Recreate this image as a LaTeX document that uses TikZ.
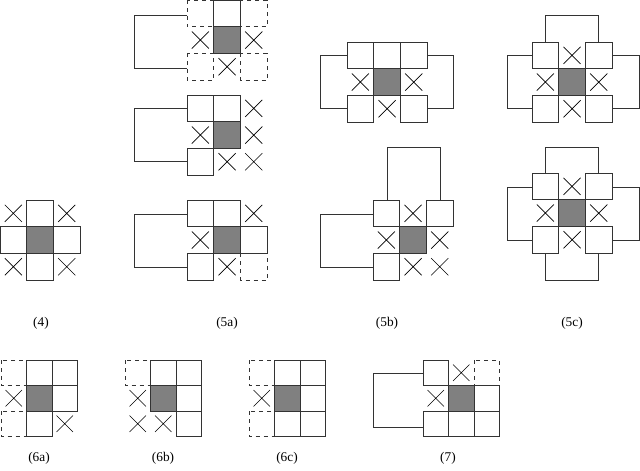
\documentclass[tikz,border=0pt]{standalone}
\usepackage{fontspec}
\setmainfont{Liberation Serif}
\newcommand\csz{26.7}
\newcommand\boxS[2]{\draw[box] ({#1*\csz},{#2*\csz}) rectangle ++(\csz,\csz);}
\newcommand\boxD[2]{\draw[box,dashed] ({#1*\csz},{#2*\csz}) rectangle ++(\csz,\csz);}
\newcommand\boxG[2]{\draw[box,fill=gray] ({#1*\csz},{#2*\csz}) rectangle ++(\csz,\csz);}
\newcommand\boxX[2]{\draw[xm] ({(#1+0.18)*\csz},{(#2+0.18)*\csz}) -- ++({0.64*\csz},{0.64*\csz}) ({(#1+0.18)*\csz},{(#2+0.82)*\csz}) -- ++({0.64*\csz},{-0.64*\csz});}
\begin{document}
\begin{tikzpicture}[x=0.75pt,y=-0.75pt,
  box/.style={draw=black!80,line width=0.6pt},
  xm/.style={draw=black,line width=0.5pt},
  con/.style={draw=black!80,line width=0.6pt},
  lab/.style={font=\fontsize{10}{12}\selectfont,inner sep=0pt}]
\useasboundingbox (0,0) rectangle (640,471);
% (4)
\begin{scope}[shift={(0,200)}]
\boxX00 \boxS10 \boxX20
\boxS01 \boxG11 \boxS21
\boxX02 \boxS12 \boxX22
\end{scope}
\node[lab] (l4) at (41,323) {(4)};
% (5a) top
\begin{scope}[shift={(187,0)}]
\boxD00 \boxS10 \boxD20
\boxX01 \boxG11 \boxX21
\boxD02 \boxX12 \boxD22
\end{scope}
\draw[con] (187,15) -- (134,15) -- (134,68) -- (187,68);
% (5a) middle
\begin{scope}[shift={(187,95)}]
\boxS00 \boxS10 \boxX20
\boxX01 \boxG11 \boxX21
\boxS02 \boxX12 \boxX22
\end{scope}
\draw[con] (187,108) -- (134,108) -- (134,161) -- (187,161);
% (5a) bottom
\begin{scope}[shift={(187,200)}]
\boxS00 \boxS10 \boxX20
\boxX01 \boxG11 \boxS21
\boxS02 \boxX12 \boxD22
\end{scope}
\draw[con] (187,214) -- (134,214) -- (134,267) -- (187,267);
\node[lab] (l5a) at (227,323) {(5a)};
% (5b) top
\begin{scope}[shift={(347,42)}]
\boxS00 \boxS10 \boxS20
\boxX01 \boxG11 \boxX21
\boxS02 \boxX12 \boxS22
\end{scope}
\draw[con] (347,55) -- (320,55) -- (320,108) -- (347,108);
\draw[con] (427,55) -- (453,55) -- (453,108) -- (427,108);
% (5b) bottom
\begin{scope}[shift={(373,200)}]
\boxS00 \boxX10 \boxS20
\boxX01 \boxG11 \boxX21
\boxS02 \boxX12 \boxX22
\end{scope}
\draw[con] (373,214) -- (320,214) -- (320,267) -- (373,267);
\draw[con] (387,200) -- (387,147) -- (440,147) -- (440,200);
\node[lab] (l5b) at (387,323) {(5b)};
% (5c) top
\begin{scope}[shift={(532,42)}]
\boxS00 \boxX10 \boxS20
\boxX01 \boxG11 \boxX21
\boxS02 \boxX12 \boxS22
\end{scope}
\draw[con] (545,42) -- (545,15) -- (598,15) -- (598,42);
\draw[con] (532,55) -- (507,55) -- (507,108) -- (532,108);
\draw[con] (612,55) -- (639,55) -- (639,108) -- (612,108);
% (5c) bottom
\begin{scope}[shift={(532,173)}]
\boxS00 \boxX10 \boxS20
\boxX01 \boxG11 \boxX21
\boxS02 \boxX12 \boxS22
\end{scope}
\draw[con] (545,173) -- (545,147) -- (598,147) -- (598,173);
\draw[con] (532,187) -- (507,187) -- (507,240) -- (532,240);
\draw[con] (612,187) -- (639,187) -- (639,240) -- (612,240);
\draw[con] (545,253) -- (545,280) -- (598,280) -- (598,253);
\node[lab] (l5c) at (572,323) {(5c)};
% bottom row, smaller cells
\renewcommand\csz{25.5}
\begin{scope}[shift={(1,360)}]
\boxD00 \boxS10 \boxS20
\boxX01 \boxG11 \boxS21
\boxD02 \boxS12 \boxX22
\end{scope}
\node[lab] (l6a) at (39,458) {(6a)};
\begin{scope}[shift={(125,360)}]
\boxD00 \boxS10 \boxS20
\boxX01 \boxG11 \boxS21
\boxX02 \boxX12 \boxS22
\end{scope}
\node[lab] (l6b) at (163,458) {(6b)};
\begin{scope}[shift={(249,360)}]
\boxD00 \boxS10 \boxS20
\boxX01 \boxG11 \boxS21
\boxD02 \boxS12 \boxS22
\end{scope}
\node[lab] (l6c) at (287,458) {(6c)};
\begin{scope}[shift={(423,360)}]
\boxS00 \boxX10 \boxD20
\boxX01 \boxG11 \boxS21
\boxS02 \boxS12 \boxS22
\end{scope}
\draw[con] (423,373) -- (373,373) -- (373,427) -- (423,427);
\node[lab] (l7) at (448,458) {(7)};
\end{tikzpicture}
\end{document}
